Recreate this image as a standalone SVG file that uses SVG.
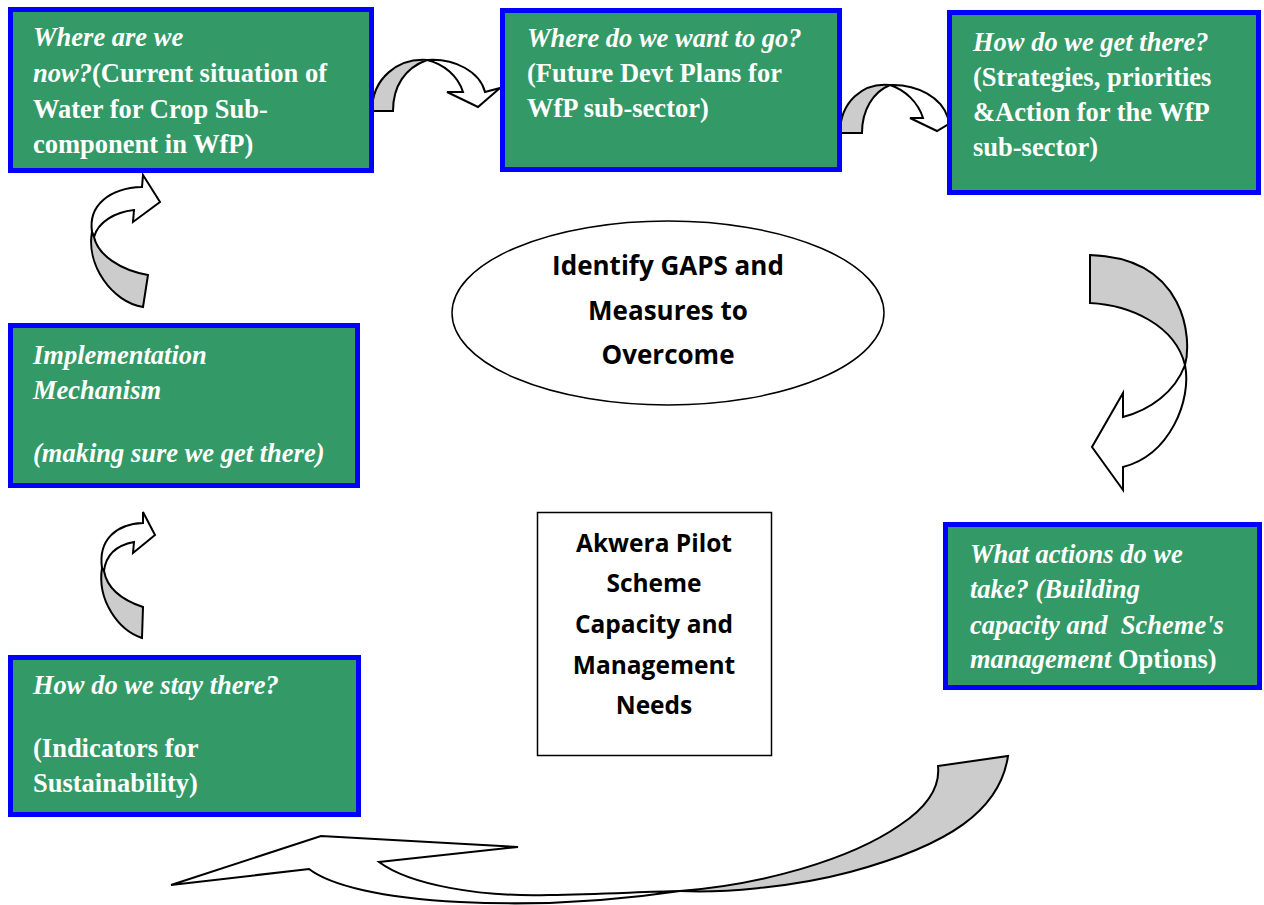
<svg xmlns="http://www.w3.org/2000/svg" width="1264" height="905" viewBox="0 0 1264 905">
<style>
.box{fill:#339966;stroke:#0000FF;stroke-width:5}
.t{font-family:"Liberation Serif",serif;font-size:26.5px;font-weight:bold;fill:#ffffff}
.i{font-style:italic}
.c{font-family:"Open Sans","Liberation Sans",sans-serif;font-size:26px;font-weight:bold;fill:#000000;text-anchor:middle}
.s{font-size:24.5px}
.aw{fill:#ffffff;stroke:#000000;stroke-width:2;stroke-linejoin:miter}
.ag{fill:#cccccc;stroke:#000000;stroke-width:2}
</style>
<rect width="1264" height="905" fill="#ffffff"/>
<g id="connectors">
  <g id="arrow1">
    <path class="aw" d="M427,60 C455,58 480,72 485,92 L500,88 L478,107 L447,92 L463,92 C458,76 444,64 427,60 Z"/>
    <path class="ag" d="M372,111 L393,111 C393,86 405,68 427,60 C398,58 372,78 372,111 Z"/>
  </g>
  <g id="arrow2">
    <path class="aw" d="M890,85 C918,84 942,98 948,118 L962,116 L937,131 L910,118 L923,118 C918,102 905,90 890,85 Z"/>
    <path class="ag" d="M840,133 L862,133 C862,110 873,92 890,85 C863,82 840,102 840,133 Z"/>
  </g>
  <g id="arrow3">
    <path class="aw" d="M1185,365 C1192,400 1170,455 1123,467 L1123,490 L1092,447 L1123,393 L1123,417 C1150,410 1175,392 1185,365 Z"/>
    <path class="ag" d="M1090,255 L1090,303 C1130,305 1175,325 1185,365 C1192,340 1187,258 1090,255 Z"/>
  </g>
  <g id="arrow4">
    <path class="aw" d="M92,232 C88,205 110,188 142,187 L143,175 L160,202 L133,222 L134,210 C115,212 98,222 94,237 Z"/>
    <path class="ag" d="M92,232 C86,265 112,302 143,307 L148,275 C120,270 98,255 94,237 Z"/>
  </g>
  <g id="arrow5">
    <path class="aw" d="M102,568 C98,540 116,524 143,523 L143,512 L155,535 L133,553 L134,542 C118,545 106,554 104,571 Z"/>
    <path class="ag" d="M102,568 C97,600 118,630 142,638 L143,607 C122,600 107,588 104,571 Z"/>
  </g>
  <g id="arrow6">
    <path class="aw" d="M680,891 C600,903 520,905 460,902 C380,898 330,885 309,869 L171,885 L321,836 L518,847 L379,862 C410,885 480,897 549,895 C600,894 640,892 680,891 Z"/>
    <path class="ag" d="M938,766 L1008,756 C1000,810 950,845 850,872 C790,888 720,893 680,891 C760,885 850,860 900,825 C930,805 940,785 938,766 Z"/>
  </g>
</g>
<g id="node-now">
  <rect class="box" x="10.5" y="9.5" width="361" height="161"/>
  <text class="t" x="33" y="46"><tspan class="i">Where are we</tspan></text>
  <text class="t" x="33" y="82"><tspan class="i">now?</tspan>(Current situation of</text>
  <text class="t" x="33" y="118">Water for Crop Sub-</text>
  <text class="t" x="33" y="153">component in WfP)</text>
</g>
<g id="node-want">
  <rect class="box" x="502.5" y="10.5" width="337" height="159"/>
  <text class="t" x="527" y="47"><tspan class="i">Where do we want to go?</tspan></text>
  <text class="t" x="527" y="82">(Future Devt Plans for</text>
  <text class="t" x="527" y="117">WfP sub-sector)</text>
</g>
<g id="node-how">
  <rect class="box" x="949.5" y="12.5" width="309" height="180"/>
  <text class="t" x="973" y="51"><tspan class="i">How do we get there?</tspan></text>
  <text class="t" x="973" y="86">(Strategies, priorities</text>
  <text class="t" x="973" y="121">&amp;Action for the WfP</text>
  <text class="t" x="973" y="156">sub-sector)</text>
</g>
<g id="node-gaps">
  <ellipse cx="668" cy="313" rx="216" ry="92" fill="#ffffff" stroke="#000000" stroke-width="1.5"/>
  <text class="c" x="668" y="275">Identify GAPS and</text>
  <text class="c" x="668" y="320">Measures to</text>
  <text class="c" x="668" y="364">Overcome</text>
</g>
<g id="node-impl">
  <rect class="box" x="10.5" y="325.5" width="347" height="160"/>
  <text class="t i" x="33" y="364">Implementation</text>
  <text class="t i" x="33" y="399">Mechanism</text>
  <text class="t i" x="33" y="462">(making sure we get there)</text>
</g>
<g id="node-akwera">
  <rect x="537.5" y="512.5" width="234" height="243" fill="#ffffff" stroke="#000000" stroke-width="1.5"/>
  <text class="c s" x="654" y="552">Akwera Pilot</text>
  <text class="c s" x="654" y="592">Scheme</text>
  <text class="c s" x="654" y="633">Capacity and</text>
  <text class="c s" x="654" y="674">Management</text>
  <text class="c s" x="654" y="714">Needs</text>
</g>
<g id="node-actions">
  <rect class="box" x="945.5" y="524.5" width="314" height="163"/>
  <text class="t i" x="970" y="563">What actions do we</text>
  <text class="t i" x="970" y="598">take? (Building</text>
  <text class="t i" x="970" y="634" xml:space="preserve">capacity and  Scheme's</text>
  <text class="t" x="970" y="668"><tspan class="i">management</tspan> Options)</text>
</g>
<g id="node-stay">
  <rect class="box" x="10.5" y="657.5" width="348" height="157"/>
  <text class="t i" x="33" y="694">How do we stay there?</text>
  <text class="t" x="33" y="757">(Indicators for</text>
  <text class="t" x="33" y="792">Sustainability)</text>
</g>
</svg>
